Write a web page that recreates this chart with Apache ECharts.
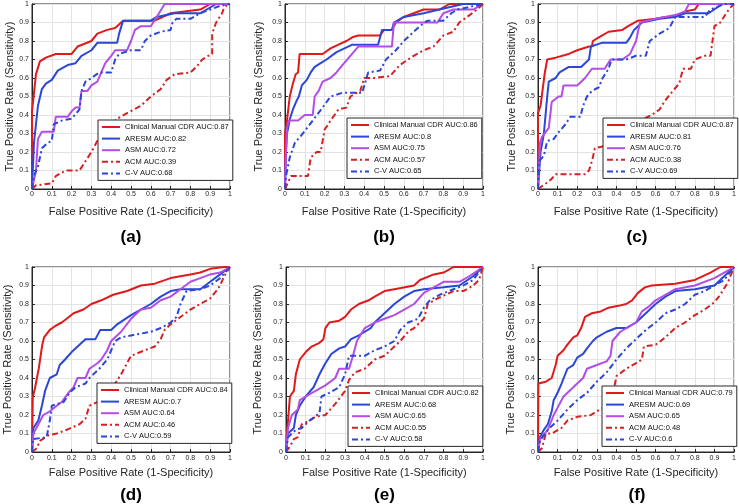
<!DOCTYPE html>
<html><head><meta charset="utf-8">
<script src="https://cdn.jsdelivr.net/npm/echarts@6/dist/echarts.min.js"></script>
<style>html,body{margin:0;padding:0;background:#fff}#c{width:739px;height:504px}</style>
</head><body><div id="c"></div>
<script>
// ---- data ----
const methods = ['Clinical Manual CDR', 'ARESM', 'ASM', 'ACM', 'C-V'];
const panelLabels = ['(a)', '(b)', '(c)', '(d)', '(e)', '(f)'];
const auc_a = ['0.87', '0.82', '0.72', '0.39', '0.68'];
const auc_b = ['0.86', '0.8', '0.75', '0.57', '0.65'];
const auc_c = ['0.87', '0.81', '0.76', '0.38', '0.69'];
const auc_d = ['0.84', '0.7', '0.64', '0.46', '0.59'];
const auc_e = ['0.82', '0.68', '0.65', '0.55', '0.58'];
const auc_f = ['0.79', '0.69', '0.65', '0.48', '0.6'];

const a_cdr = [[0,0],[0,0.42],[0.02,0.62],[0.04,0.69],[0.07,0.71],[0.12,0.73],[0.2,0.73],[0.23,0.77],[0.3,0.8],[0.33,0.84],[0.38,0.86],[0.42,0.87],[0.46,0.91],[0.62,0.91],[0.7,0.95],[0.85,0.97],[0.9,1],[1,1]];
const a_aresm = [[0,0],[0.01,0.25],[0.03,0.45],[0.05,0.54],[0.07,0.57],[0.1,0.59],[0.13,0.64],[0.18,0.67],[0.22,0.68],[0.25,0.72],[0.3,0.75],[0.33,0.79],[0.43,0.79],[0.44,0.84],[0.46,0.91],[0.6,0.91],[0.63,0.93],[0.72,0.95],[0.85,0.95],[0.93,1],[1,1]];
const a_asm = [[0,0],[0.02,0.1],[0.03,0.27],[0.05,0.31],[0.11,0.31],[0.12,0.39],[0.18,0.39],[0.2,0.42],[0.22,0.44],[0.24,0.44],[0.25,0.53],[0.28,0.53],[0.3,0.56],[0.33,0.58],[0.35,0.63],[0.37,0.68],[0.4,0.72],[0.42,0.75],[0.48,0.75],[0.5,0.8],[0.52,0.86],[0.55,0.88],[0.6,0.88],[0.63,0.93],[0.67,1],[1,1]];
const a_acm = [[0,0],[0.02,0.02],[0.1,0.03],[0.12,0.07],[0.17,0.1],[0.24,0.1],[0.27,0.15],[0.3,0.2],[0.35,0.3],[0.38,0.33],[0.43,0.38],[0.48,0.41],[0.55,0.45],[0.6,0.5],[0.65,0.54],[0.68,0.59],[0.72,0.62],[0.8,0.63],[0.83,0.66],[0.86,0.7],[0.89,0.72],[0.91,0.73],[0.91,0.84],[0.93,0.9],[0.96,0.95],[0.97,0.98],[0.99,1],[1,1]];
const a_cv = [[0,0],[0.01,0.07],[0.03,0.12],[0.05,0.22],[0.08,0.25],[0.1,0.26],[0.11,0.35],[0.15,0.37],[0.2,0.38],[0.24,0.43],[0.25,0.53],[0.27,0.58],[0.3,0.6],[0.34,0.63],[0.4,0.63],[0.42,0.7],[0.44,0.73],[0.5,0.75],[0.55,0.75],[0.57,0.8],[0.6,0.83],[0.65,0.85],[0.7,0.86],[0.71,0.9],[0.73,0.92],[0.8,0.92],[0.85,0.95],[0.9,0.97],[0.95,0.99],[1,1]];

const b_cdr = [[0,0],[0,0.3],[0.01,0.37],[0.024,0.5],[0.04,0.57],[0.054,0.62],[0.066,0.63],[0.074,0.73],[0.19,0.73],[0.23,0.76],[0.27,0.78],[0.31,0.8],[0.34,0.82],[0.37,0.83],[0.48,0.83],[0.5,0.86],[0.54,0.86],[0.56,0.9],[0.6,0.93],[0.65,0.95],[0.7,0.97],[0.78,0.97],[0.83,1],[1,1]];
const b_aresm = [[0,0],[0.005,0.2],[0.01,0.3],[0.025,0.38],[0.04,0.43],[0.06,0.48],[0.07,0.5],[0.085,0.56],[0.11,0.59],[0.13,0.63],[0.15,0.66],[0.18,0.68],[0.21,0.7],[0.26,0.74],[0.3,0.76],[0.34,0.78],[0.47,0.78],[0.49,0.86],[0.54,0.86],[0.55,0.9],[0.6,0.93],[0.7,0.95],[0.78,0.97],[0.9,1],[1,1]];
const b_asm = [[0,0],[0.005,0.2],[0.01,0.33],[0.02,0.37],[0.066,0.37],[0.1,0.4],[0.14,0.4],[0.15,0.5],[0.17,0.53],[0.19,0.58],[0.23,0.6],[0.26,0.63],[0.29,0.67],[0.33,0.72],[0.37,0.77],[0.54,0.77],[0.55,0.9],[0.77,0.9],[0.8,0.95],[0.85,0.97],[0.95,0.97],[1,1]];
const b_acm = [[0,0],[0.03,0.07],[0.116,0.07],[0.13,0.17],[0.16,0.2],[0.18,0.2],[0.2,0.32],[0.23,0.37],[0.27,0.43],[0.31,0.44],[0.33,0.5],[0.38,0.53],[0.4,0.6],[0.45,0.6],[0.53,0.61],[0.58,0.67],[0.65,0.72],[0.7,0.75],[0.75,0.77],[0.8,0.83],[0.85,0.85],[0.88,0.9],[0.92,0.93],[0.97,0.97],[1,1]];
const b_cv = [[0,0],[0.007,0.08],[0.024,0.17],[0.05,0.25],[0.09,0.3],[0.14,0.37],[0.19,0.44],[0.23,0.5],[0.29,0.52],[0.39,0.52],[0.42,0.63],[0.48,0.64],[0.51,0.7],[0.56,0.75],[0.6,0.8],[0.65,0.85],[0.68,0.88],[0.72,0.91],[0.8,0.91],[0.84,0.95],[0.87,0.97],[1,1]];

const c_cdr = [[0,0],[0,0.41],[0.013,0.45],[0.035,0.63],[0.047,0.7],[0.09,0.71],[0.157,0.73],[0.2,0.75],[0.26,0.77],[0.275,0.77],[0.28,0.8],[0.31,0.82],[0.36,0.85],[0.43,0.86],[0.46,0.88],[0.51,0.91],[0.6,0.92],[0.65,0.93],[0.7,0.93],[0.75,0.96],[0.8,0.97],[0.82,1],[1,1]];
const c_aresm = [[0,0],[0.013,0.2],[0.03,0.3],[0.047,0.5],[0.055,0.58],[0.09,0.6],[0.11,0.63],[0.157,0.66],[0.22,0.66],[0.26,0.7],[0.27,0.77],[0.325,0.79],[0.45,0.79],[0.47,0.82],[0.49,0.86],[0.53,0.9],[0.62,0.92],[0.7,0.93],[0.75,0.95],[0.87,0.95],[0.94,1],[1,1]];
const c_asm = [[0,0],[0.01,0.25],[0.02,0.28],[0.055,0.33],[0.07,0.47],[0.105,0.5],[0.12,0.5],[0.13,0.56],[0.2,0.56],[0.24,0.6],[0.275,0.65],[0.34,0.65],[0.37,0.7],[0.43,0.7],[0.47,0.73],[0.5,0.8],[0.52,0.9],[0.6,0.92],[0.7,0.94],[0.75,0.96],[0.77,1],[1,1]];
const c_acm = [[0,0],[0.04,0.03],[0.065,0.05],[0.09,0.08],[0.24,0.08],[0.26,0.1],[0.275,0.15],[0.29,0.22],[0.33,0.23],[0.4,0.28],[0.45,0.33],[0.5,0.36],[0.58,0.4],[0.62,0.43],[0.65,0.48],[0.68,0.52],[0.72,0.57],[0.74,0.65],[0.78,0.65],[0.8,0.7],[0.85,0.72],[0.88,0.72],[0.89,0.8],[0.9,0.88],[0.93,0.9],[0.96,0.95],[0.98,0.98],[1,1]];
const c_cv = [[0,0],[0.005,0.15],[0.03,0.18],[0.047,0.26],[0.08,0.27],[0.1,0.3],[0.14,0.35],[0.165,0.39],[0.216,0.39],[0.23,0.45],[0.25,0.5],[0.275,0.53],[0.31,0.55],[0.33,0.6],[0.36,0.65],[0.375,0.7],[0.45,0.7],[0.5,0.72],[0.55,0.72],[0.57,0.8],[0.62,0.84],[0.67,0.87],[0.7,0.93],[0.85,0.93],[0.88,0.97],[0.95,1],[1,1]];

const d_cdr = [[0,0],[0.004,0.296],[0.016,0.35],[0.034,0.45],[0.052,0.58],[0.061,0.62],[0.09,0.66],[0.116,0.68],[0.15,0.7],[0.175,0.72],[0.21,0.75],[0.26,0.77],[0.3,0.8],[0.35,0.82],[0.41,0.85],[0.48,0.87],[0.55,0.9],[0.62,0.91],[0.7,0.94],[0.8,0.96],[0.85,0.97],[0.9,0.99],[0.97,1],[1,1]];
const d_aresm = [[0,0],[0.007,0.13],[0.032,0.17],[0.05,0.25],[0.066,0.33],[0.09,0.4],[0.125,0.42],[0.14,0.47],[0.167,0.5],[0.2,0.54],[0.24,0.58],[0.27,0.61],[0.32,0.61],[0.345,0.66],[0.4,0.66],[0.43,0.69],[0.5,0.74],[0.6,0.8],[0.65,0.84],[0.7,0.87],[0.75,0.88],[0.85,0.88],[0.9,0.92],[0.95,0.96],[1,1]];
const d_asm = [[0,0],[0.007,0.1],[0.032,0.15],[0.057,0.2],[0.09,0.22],[0.125,0.25],[0.15,0.27],[0.184,0.32],[0.21,0.35],[0.23,0.4],[0.27,0.4],[0.29,0.45],[0.33,0.48],[0.35,0.5],[0.38,0.55],[0.4,0.6],[0.45,0.65],[0.5,0.72],[0.55,0.77],[0.6,0.78],[0.65,0.82],[0.7,0.84],[0.75,0.88],[0.8,0.92],[0.85,0.94],[0.9,0.96],[0.95,0.97],[1,1]];
const d_acm = [[0,0],[0.024,0.02],[0.04,0.06],[0.083,0.09],[0.125,0.1],[0.175,0.12],[0.24,0.15],[0.27,0.18],[0.29,0.25],[0.33,0.27],[0.39,0.3],[0.42,0.37],[0.45,0.42],[0.5,0.52],[0.57,0.55],[0.62,0.57],[0.65,0.61],[0.67,0.66],[0.7,0.69],[0.75,0.73],[0.8,0.77],[0.85,0.8],[0.9,0.83],[0.93,0.87],[0.95,0.9],[0.97,0.95],[1,1]];
const d_cv = [[0,0],[0.004,0.07],[0.074,0.08],[0.09,0.17],[0.1,0.25],[0.16,0.27],[0.19,0.32],[0.22,0.35],[0.27,0.37],[0.29,0.4],[0.34,0.45],[0.38,0.5],[0.4,0.55],[0.42,0.6],[0.45,0.62],[0.5,0.63],[0.55,0.64],[0.6,0.65],[0.65,0.67],[0.7,0.7],[0.73,0.73],[0.75,0.8],[0.78,0.87],[0.85,0.88],[0.9,0.9],[0.95,0.94],[1,1]];

const e_cdr = [[0,0],[0.005,0.1],[0.02,0.3],[0.04,0.33],[0.05,0.42],[0.07,0.5],[0.1,0.54],[0.13,0.57],[0.17,0.59],[0.19,0.61],[0.2,0.67],[0.22,0.7],[0.27,0.71],[0.3,0.73],[0.33,0.77],[0.37,0.8],[0.42,0.82],[0.45,0.84],[0.5,0.87],[0.55,0.88],[0.65,0.9],[0.68,0.93],[0.75,0.96],[0.8,0.97],[0.85,1],[1,1]];
const e_aresm = [[0,0],[0.01,0.1],[0.04,0.13],[0.05,0.2],[0.07,0.25],[0.1,0.3],[0.14,0.35],[0.17,0.42],[0.2,0.48],[0.23,0.53],[0.27,0.56],[0.3,0.57],[0.33,0.61],[0.37,0.63],[0.4,0.65],[0.43,0.67],[0.45,0.7],[0.5,0.75],[0.55,0.8],[0.6,0.84],[0.65,0.87],[0.7,0.88],[0.8,0.89],[0.88,0.9],[0.95,0.95],[1,1]];
const e_asm = [[0,0],[0.01,0.13],[0.03,0.2],[0.06,0.23],[0.07,0.28],[0.1,0.3],[0.15,0.33],[0.2,0.36],[0.25,0.4],[0.27,0.45],[0.32,0.45],[0.34,0.52],[0.36,0.6],[0.4,0.67],[0.45,0.7],[0.5,0.72],[0.55,0.74],[0.6,0.77],[0.65,0.8],[0.7,0.86],[0.8,0.92],[0.88,0.92],[0.93,0.95],[1,1]];
const e_acm = [[0,0],[0.02,0.03],[0.04,0.07],[0.06,0.08],[0.08,0.15],[0.12,0.17],[0.15,0.19],[0.2,0.2],[0.25,0.26],[0.3,0.33],[0.32,0.39],[0.35,0.43],[0.4,0.45],[0.45,0.5],[0.5,0.52],[0.55,0.57],[0.58,0.6],[0.62,0.65],[0.65,0.67],[0.7,0.72],[0.72,0.8],[0.77,0.83],[0.85,0.87],[0.9,0.87],[0.95,0.9],[0.98,0.93],[1,1]];
const e_cv = [[0,0],[0.01,0.08],[0.05,0.12],[0.08,0.13],[0.12,0.17],[0.17,0.21],[0.18,0.3],[0.22,0.32],[0.27,0.35],[0.3,0.42],[0.32,0.52],[0.4,0.52],[0.45,0.55],[0.5,0.57],[0.55,0.6],[0.58,0.66],[0.62,0.7],[0.67,0.72],[0.7,0.78],[0.73,0.82],[0.78,0.85],[0.85,0.88],[0.9,0.9],[0.95,0.93],[1,1]];

const f_cdr = [[0,0],[0.002,0.37],[0.04,0.38],[0.07,0.4],[0.09,0.47],[0.1,0.52],[0.13,0.55],[0.15,0.58],[0.18,0.62],[0.2,0.63],[0.22,0.67],[0.24,0.73],[0.275,0.75],[0.32,0.76],[0.36,0.78],[0.41,0.79],[0.45,0.8],[0.48,0.82],[0.51,0.86],[0.545,0.89],[0.58,0.9],[0.7,0.91],[0.8,0.93],[0.88,0.97],[0.93,1],[1,1]];
const f_aresm = [[0,0],[0.01,0.08],[0.03,0.12],[0.05,0.15],[0.07,0.22],[0.08,0.28],[0.1,0.32],[0.12,0.37],[0.15,0.45],[0.18,0.47],[0.2,0.51],[0.23,0.53],[0.25,0.56],[0.28,0.6],[0.3,0.62],[0.35,0.65],[0.4,0.67],[0.45,0.67],[0.5,0.7],[0.55,0.75],[0.6,0.8],[0.65,0.84],[0.7,0.87],[0.8,0.88],[0.9,0.9],[0.95,0.95],[1,1]];
const f_asm = [[0,0],[0.01,0.07],[0.05,0.12],[0.08,0.2],[0.1,0.24],[0.13,0.3],[0.16,0.33],[0.2,0.37],[0.23,0.4],[0.25,0.45],[0.3,0.47],[0.35,0.49],[0.37,0.52],[0.38,0.6],[0.42,0.65],[0.5,0.7],[0.53,0.76],[0.57,0.79],[0.6,0.82],[0.65,0.85],[0.7,0.88],[0.8,0.9],[0.9,0.94],[0.95,0.97],[1,1]];
const f_acm = [[0,0],[0.02,0.02],[0.04,0.1],[0.07,0.1],[0.12,0.13],[0.15,0.17],[0.2,0.19],[0.27,0.2],[0.3,0.22],[0.35,0.25],[0.38,0.3],[0.4,0.41],[0.45,0.45],[0.5,0.48],[0.53,0.5],[0.54,0.57],[0.6,0.58],[0.65,0.62],[0.7,0.67],[0.75,0.7],[0.8,0.74],[0.85,0.77],[0.9,0.81],[0.93,0.85],[0.97,0.92],[1,1]];
const f_cv = [[0,0],[0.01,0.06],[0.05,0.12],[0.1,0.17],[0.15,0.23],[0.2,0.28],[0.25,0.32],[0.3,0.38],[0.35,0.43],[0.4,0.5],[0.45,0.56],[0.5,0.61],[0.55,0.66],[0.6,0.7],[0.65,0.75],[0.7,0.77],[0.75,0.8],[0.8,0.85],[0.85,0.87],[0.9,0.9],[0.95,0.93],[1,1]];

// ---- assemble ----
const panelData = [
  [a_cdr, a_aresm, a_asm, a_acm, a_cv],
  [b_cdr, b_aresm, b_asm, b_acm, b_cv],
  [c_cdr, c_aresm, c_asm, c_acm, c_cv],
  [d_cdr, d_aresm, d_asm, d_acm, d_cv],
  [e_cdr, e_aresm, e_asm, e_acm, e_cv],
  [f_cdr, f_aresm, f_asm, f_acm, f_cv]
];
const panelAuc = [auc_a, auc_b, auc_c, auc_d, auc_e, auc_f];

const colors = ['#e01a1a', '#2b47d6', '#b24ee6', '#d42222', '#2b47d6'];
const dashes = ['solid', 'solid', 'solid', [6, 3, 2, 3], [6, 3, 2, 3]];

// layout
const grids = [
  {left: 32, top: 4, width: 198, height: 185},
  {left: 285, top: 4, width: 198, height: 185},
  {left: 538, top: 4, width: 198, height: 185},
  {left: 32, top: 267, width: 198, height: 185},
  {left: 286, top: 267, width: 197, height: 185},
  {left: 538, top: 267, width: 198, height: 185}
];
const yNameGap = [16, 21, 21, 19, 23, 22];
const xNameGap = [17, 17, 17, 15, 15, 15];
const legendPos = [
  {left: 98, top: 120}, {left: 347, top: 118}, {left: 603, top: 118},
  {left: 97, top: 383}, {left: 348, top: 386}, {left: 602, top: 386}
];
const FONT = 'Liberation Sans, Arial, Helvetica, sans-serif';
const fmt = v => String(+v.toFixed(1));

const option = {
  animation: false,
  backgroundColor: '#fff',
  grid: grids.map(g => Object.assign({show: true, borderColor: '#262626', borderWidth: 1, backgroundColor: '#fff'}, g)),
  xAxis: grids.map((g, i) => ({
    type: 'value', gridIndex: i, min: 0, max: 1, interval: 0.1,
    name: 'False Positive Rate (1-Specificity)', nameLocation: 'middle', nameGap: xNameGap[i],
    nameTextStyle: {fontSize: 11, color: '#262626', fontFamily: FONT},
    axisLine: {show: true, onZero: false, lineStyle: {color: '#262626', width: 1}},
    axisTick: {show: true, inside: true, length: 3, lineStyle: {color: '#262626'}},
    axisLabel: {fontSize: 7, color: '#262626', margin: i < 3 ? 2 : 3, fontFamily: FONT, formatter: fmt},
    splitLine: {show: true, lineStyle: {color: '#e3e3e3', width: 1}}
  })),
  yAxis: grids.map((g, i) => ({
    type: 'value', gridIndex: i, min: 0, max: 1, interval: 0.1,
    name: 'True Positive Rate (Sensitivity)', nameLocation: 'middle', nameGap: yNameGap[i],
    nameTextStyle: {fontSize: 11, color: '#262626', fontFamily: FONT},
    axisLine: {show: true, onZero: false, lineStyle: {color: '#262626', width: 1}},
    axisTick: {show: true, inside: true, length: 3, lineStyle: {color: '#262626'}},
    axisLabel: {fontSize: 7, color: '#262626', margin: 3, fontFamily: FONT, formatter: fmt},
    splitLine: {show: true, lineStyle: {color: '#e3e3e3', width: 1}}
  })),
  legend: grids.map((g, i) => ({
    data: methods.map((m, k) => m + ' AUC:' + panelAuc[i][k]),
    orient: 'vertical', left: legendPos[i].left, top: legendPos[i].top,
    itemWidth: 18, itemHeight: 8, itemGap: 3.6, padding: [3, 4, 3, 3],
    borderColor: '#262626', borderWidth: 1, backgroundColor: '#fff',
    selectedMode: false,
    itemStyle: {opacity: 0, borderWidth: 0},
    lineStyle: {width: 2},
    textStyle: {fontSize: 7.5, color: '#111', fontFamily: FONT}
  })),
  graphic: panelLabels.map((t, i) => ({
    type: 'text',
    style: {
      text: t, x: grids[i].left + grids[i].width / 2, y: i < 3 ? 237 : 495,
      textAlign: 'center', textVerticalAlign: 'middle',
      font: 'bold 17px ' + FONT, fill: '#000'
    }
  })),
  series: []
};

panelData.forEach((curves, i) => {
  curves.forEach((d, k) => {
    option.series.push({
      type: 'line', xAxisIndex: i, yAxisIndex: i,
      name: methods[k] + ' AUC:' + panelAuc[i][k],
      data: d, symbol: 'none', showSymbol: false,
      color: colors[k],
      lineStyle: {width: 2, color: colors[k], type: dashes[k]},
      z: 2 + k * 0.01
    });
  });
});

const chart = echarts.init(document.getElementById('c'), null, {renderer: 'canvas'});
chart.setOption(option);
</script>
</body></html>
